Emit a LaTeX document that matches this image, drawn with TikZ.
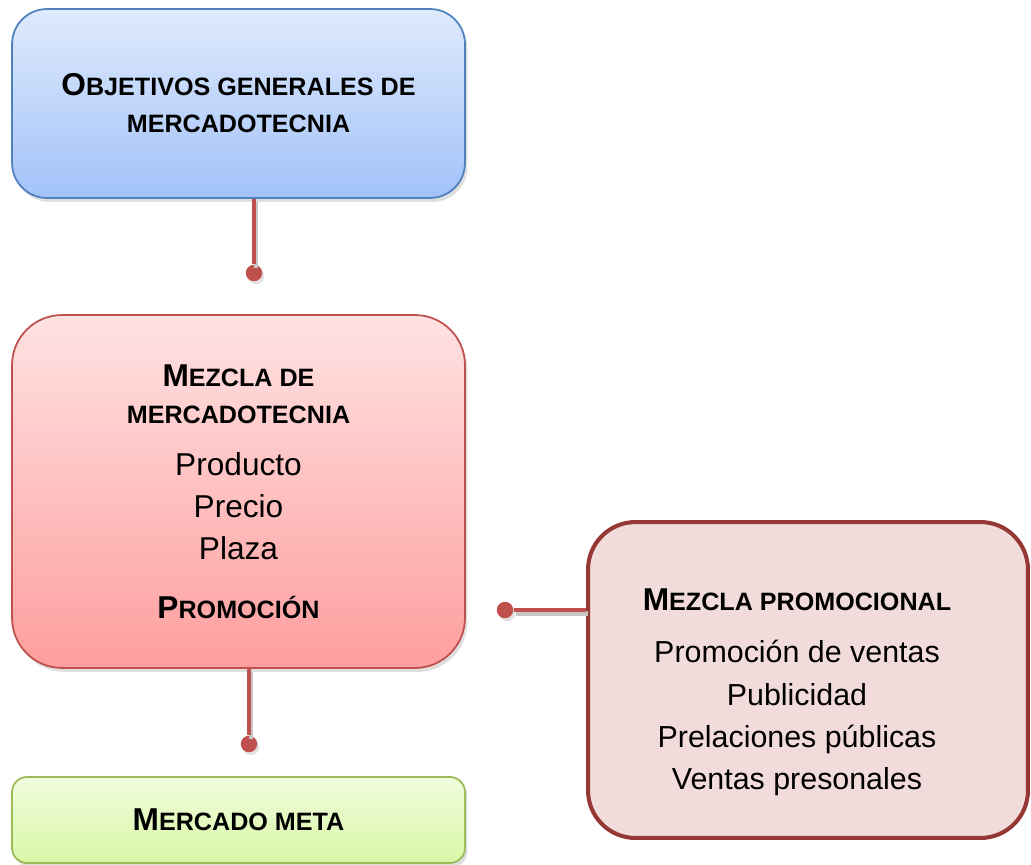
\documentclass[tikz,border=0pt]{standalone}
\usepackage{fontspec}
\setmainfont{Liberation Sans}
\usepackage{xcolor}
\usetikzlibrary{positioning,shadows}

\definecolor{blueTop}{HTML}{DFEAFD}
\definecolor{blueBot}{HTML}{A2C2F8}
\definecolor{blueLine}{HTML}{4F81BD}
\definecolor{redTop}{HTML}{FFE2E2}
\definecolor{redBot}{HTML}{FE9E9E}
\definecolor{redLine}{HTML}{C0504D}
\definecolor{greenTop}{HTML}{F1FCDD}
\definecolor{greenBot}{HTML}{D8F7A6}
\definecolor{greenLine}{HTML}{9BBB59}
\definecolor{promoFill}{HTML}{F2DCDB}
\definecolor{promoLine}{HTML}{953735}

% fake small caps: large first letter, smaller capitals for the rest
\newcommand{\capsc}[2]{{\fontsize{18}{24}\selectfont #1}{\fontsize{14.3}{24}\selectfont\MakeUppercase{#2}}}

\begin{document}
\begin{tikzpicture}[
    x=0.02cm, y=-0.02cm,
    font=\fontsize{18}{24}\selectfont,
    shade/.style={drop shadow={shadow xshift=0.05cm, shadow yshift=-0.08cm, opacity=0.25}},
    bluebox/.style={rectangle, rounded corners=0.7cm, draw=blueLine, line width=1pt, top color=blueTop, bottom color=blueBot, shade, minimum width=9.06cm, minimum height=3.78cm, align=center},
    redbox/.style={rectangle, rounded corners=1cm, draw=redLine, line width=1pt, top color=redTop, bottom color=redBot, shade, minimum width=9.06cm, minimum height=7.06cm, align=center},
    greenbox/.style={rectangle, rounded corners=0.3cm, draw=greenLine, line width=1pt, top color=greenTop, bottom color=greenBot, shade, minimum width=9.06cm, minimum height=1.72cm, align=center},
    promobox/.style={rectangle, rounded corners=0.95cm, draw=promoLine, line width=2.3pt, fill=promoFill, minimum width=8.8cm, minimum height=6.32cm},
    link/.style={draw=redLine, line width=2.6pt, preaction={draw=black!22, line width=2.6pt, transform canvas={xshift=1.2pt, yshift=-2pt}}},
    dot/.style={circle, fill=redLine, inner sep=0pt, minimum size=0.33cm, drop shadow={shadow xshift=0.04cm, shadow yshift=-0.06cm, opacity=0.22}}
]
\useasboundingbox (0,0) rectangle (1031,865);

% Objectives
\node[bluebox] (obj) at (238.5,103.5) {\textbf{\capsc{O}{BJETIVOS GENERALES DE}}\\[-3pt]\textbf{\capsc{}{MERCADOTECNIA}}};

% Marketing mix
\node[redbox] (mix) at (238.5,491.5) {\textbf{\capsc{M}{EZCLA DE}}\\[-3pt]\textbf{\capsc{}{MERCADOTECNIA}}\\[5.6pt]Producto\\Precio\\Plaza\\[9.6pt]\textbf{\capsc{P}{ROMOCIÓN}}};

% Target market
\node[greenbox] (meta) at (238.5,820) {\textbf{\capsc{M}{ERCADO META}}};

% Promotional mix
\node[promobox] (promo) at (808,680) {};
\node[align=center, font=\fontsize{17.3}{24}\selectfont] (promotxt) at (797,692) {\textbf{\capsc{M}{EZCLA PROMOCIONAL}}\\[6pt]Promoción de ventas\\Publicidad\\Prelaciones públicas\\Ventas presonales};

% Connectors
\node[dot] (d1) at (254,273) {};
\node[dot] (d2) at (249,744) {};
\node[dot] (d3) at (505,610) {};
\draw[link] (d1 |- obj.south) -- (d1);
\draw[link] (d2 |- mix.south) -- (d2);
\draw[link] (d3 -| promo.west) -- (d3);

\end{tikzpicture}
\end{document}
